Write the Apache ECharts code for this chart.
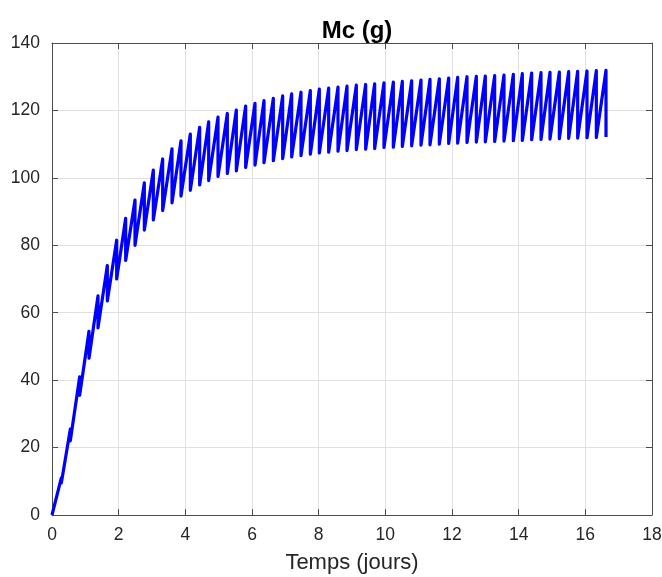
<!DOCTYPE html>
<html>
<head>
<meta charset="utf-8">
<script src="https://cdn.jsdelivr.net/npm/echarts@6/dist/echarts.min.js"></script>
<style>
  html, body { margin: 0; padding: 0; background: #fff; }
  #chart { width: 662px; height: 577px; }
</style>
</head>
<body>
<div id="chart"></div>
<script>
// Harvest times (days): the curve climbs to a peak, then drops to the trough at the same instant
const harvestDays = [
  0.28, 0.55, 0.83, 1.11, 1.38, 1.66, 1.94, 2.21, 2.49, 2.77,
  3.04, 3.32, 3.60, 3.87, 4.15, 4.43, 4.70, 4.98, 5.26, 5.53,
  5.81, 6.09, 6.36, 6.64, 6.92, 7.19, 7.47, 7.75, 8.02, 8.30,
  8.58, 8.85, 9.13, 9.41, 9.68, 9.96, 10.24, 10.51, 10.79, 11.07,
  11.34, 11.62, 11.90, 12.17, 12.45, 12.73, 13.00, 13.28, 13.56, 13.84,
  14.11, 14.39, 14.67, 14.94, 15.22, 15.50, 15.77, 16.05, 16.33, 16.62
];
// Mc just before each harvest (g)
const peakMass = [
  11.0, 25.5, 41.0, 54.5, 65.0, 74.0, 81.5, 88.0, 93.4, 98.5,
  102.3, 105.6, 108.6, 111.0, 113.0, 115.0, 116.6, 118.0, 119.1, 120.1,
  121.3, 122.1, 122.9, 123.6, 124.3, 124.9, 125.4, 125.9, 126.3, 126.6,
  126.9, 127.2, 127.5, 127.7, 127.9, 128.2, 128.4, 128.6, 128.8, 129.0,
  129.2, 129.4, 129.6, 129.8, 130.0, 130.1, 130.2, 130.3, 130.5, 130.7,
  130.9, 131.1, 131.2, 131.3, 131.4, 131.5, 131.6, 131.7, 131.8, 131.9
];
// Mc just after each harvest (g)
const troughMass = [
  9.5, 22.0, 35.5, 46.5, 55.5, 63.5, 70.0, 75.5, 80.0, 84.5,
  87.5, 90.3, 92.6, 94.6, 96.3, 97.9, 99.2, 100.4, 101.3, 102.1,
  103.1, 103.8, 104.5, 105.1, 105.7, 106.2, 106.6, 107.0, 107.4, 107.6,
  107.9, 108.1, 108.4, 108.5, 108.7, 109.0, 109.1, 109.3, 109.5, 109.7,
  109.8, 110.0, 110.2, 110.3, 110.5, 110.6, 110.7, 110.8, 110.9, 111.0,
  111.1, 111.3, 111.4, 111.5, 111.6, 111.7, 111.8, 111.9, 112.0, 112.1
];
const startPoint = [0, 0];
const xTicks = { min: 0, max: 18, step: 2 };
const yTicks = { min: 0, max: 140, step: 20 };

// Sawtooth path: start, then peak -> trough at every harvest time
const pathData = [startPoint];
for (let i = 0; i < harvestDays.length; i++) {
  pathData.push([harvestDays[i], peakMass[i]]);
  pathData.push([harvestDays[i], troughMass[i]]);
}

const axisColor = '#4d4d4d';
const labelColor = '#262626';
const fontFamily = 'Liberation Sans, Arial, Helvetica, sans-serif';

// One side of the boxed axes; the top and right sides carry ticks only
function boxAxis(range, position, showLabels, isX) {
  return {
    type: 'value',
    position: position,
    min: range.min,
    max: range.max,
    interval: range.step,
    axisLine: { show: true, onZero: false, lineStyle: { color: axisColor, width: 1 } },
    axisTick: { show: true, inside: true, length: 6, lineStyle: { color: axisColor, width: 1 } },
    axisLabel: {
      show: showLabels,
      color: labelColor,
      fontSize: 17.5,
      fontFamily: fontFamily,
      margin: isX ? 11 : 12
    },
    splitLine: { show: showLabels, lineStyle: { color: '#e0e0e0', width: 1 } }
  };
}

const xMain = boxAxis(xTicks, 'bottom', true, true);
xMain.name = 'Temps (jours)';
xMain.nameLocation = 'middle';
xMain.nameGap = 37;
xMain.nameTextStyle = { color: labelColor, fontSize: 22, fontFamily: fontFamily };

const chart = echarts.init(document.getElementById('chart'), null, { renderer: 'canvas' });
chart.setOption({
  backgroundColor: '#ffffff',
  animation: false,
  title: {
    text: 'Mc (g)',
    left: 352,
    top: 14,
    textAlign: 'center',
    textStyle: { fontSize: 24, fontWeight: 'bold', color: '#000', fontFamily: fontFamily }
  },
  grid: { left: 52, right: 10, top: 43, bottom: 62, containLabel: false, outerBoundsMode: 'none' },
  xAxis: [xMain, boxAxis(xTicks, 'top', false, true)],
  yAxis: [boxAxis(yTicks, 'left', true, false), boxAxis(yTicks, 'right', false, false)],
  series: [{
    type: 'line',
    xAxisIndex: 0,
    yAxisIndex: 0,
    data: pathData,
    showSymbol: false,
    symbol: 'none',
    clip: false,
    lineStyle: { color: '#0000ff', width: 3.2, join: 'round' }
  }]
});
</script>
</body>
</html>
